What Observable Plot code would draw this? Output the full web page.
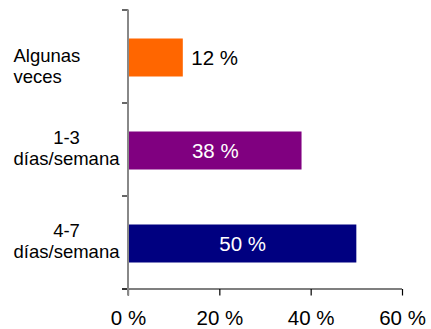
<!DOCTYPE html>
<html>
<head>
<meta charset="utf-8">
<script src="https://cdn.jsdelivr.net/npm/d3@7"></script>
<script src="https://cdn.jsdelivr.net/npm/@observablehq/plot@0.6"></script>
<style>
  html, body { margin: 0; padding: 0; background: #fff; }
  #chart svg { display: block; }
</style>
</head>
<body>
<div id="chart"></div>
<script>
const categories = ["Algunas\nveces", "1-3\ndías/semana", "4-7\ndías/semana"];
const values = [12, 38, 50];
const colors = ["#FF6600", "#800080", "#000080"];
const xTicks = [0, 20, 40, 60];
const xTickLabels = ["0 %", "20 %", "40 %", "60 %"];

const data = categories.map((c, i) => ({cat: c, value: values[i], color: colors[i], label: values[i] + " %", inside: values[i] >= 20}));

const W = 431, H = 329;
const font = "Arial, 'Liberation Sans', sans-serif";

// Axis lines and boundary ticks on the category axis, drawn from the scales
function axisLines(index, scales, values, dimensions) {
  const y = scales.y;
  const x = scales.x;
  const step = y.step();
  const bw = y.bandwidth();
  const g = d3.create("svg:g");
  const x0 = x(0);
  const positions = [];
  categories.forEach((c, i) => {
    const center = y(c) + bw / 2;
    if (i === 0) positions.push(center - step / 2);
    positions.push(center + step / 2);
  });
  const yBottom = positions[positions.length - 1];
  // horizontal black axis line
  g.append("line").attr("x1", x0 - 6).attr("x2", x(xTicks[xTicks.length - 1]))
    .attr("y1", yBottom + 0.5).attr("y2", yBottom + 0.5)
    .attr("stroke", "#000").attr("stroke-width", 1.2);
  positions.forEach(p => {
    g.append("line").attr("x1", x0 - 6).attr("x2", x0).attr("y1", p + 0.5).attr("y2", p + 0.5)
      .attr("stroke", "#000").attr("stroke-width", 1.2);
  });
  // vertical gray axis line
  g.append("line").attr("x1", x0).attr("x2", x0)
    .attr("y1", positions[0]).attr("y2", yBottom + 7)
    .attr("stroke", "#888").attr("stroke-width", 2);
  return g.node();
}

const plot = Plot.plot({
  width: W,
  height: H,
  marginLeft: 128,
  marginRight: 29,
  marginTop: 10,
  marginBottom: 40,
  style: {fontFamily: font, background: "#fff", color: "#000"},
  x: {domain: [0, 60], label: null},
  y: {domain: categories, paddingInner: 0.59, paddingOuter: 0.295, axis: null, label: null},
  marks: [
    Plot.barX(data, {y: "cat", x: "value", fill: "color", dy: 1.5}),
    Plot.axisX({ticks: xTicks, tickFormat: (d) => xTickLabels[xTicks.indexOf(d)], label: null, tickSize: 6.5, tickPadding: 14, fontSize: 20.5, stroke: "#000", strokeOpacity: 1, strokeWidth: 1.2, fill: "#000"}),
    axisLines,
    Plot.text(data.filter(d => d.inside), {y: "cat", x: d => d.value / 2, text: "label", fill: "#fff", fontSize: 20.5, dy: 1.5}),
    Plot.text(data.filter(d => !d.inside), {y: "cat", x: "value", text: "label", fill: "#000", fontSize: 20.5, textAnchor: "start", dx: 8, dy: 1.5}),
    Plot.text(data.slice(0, 1), {y: "cat", x: 0, text: "cat", fill: "#000", fontSize: 18.5, textAnchor: "start", dx: -115, dy: 9, lineHeight: 1.13}),
    Plot.text(data.slice(1), {y: "cat", x: 0, text: "cat", fill: "#000", fontSize: 18.5, textAnchor: "middle", dx: -62, dy: -1.5, lineHeight: 1.13})
  ]
});

document.getElementById("chart").appendChild(plot);
</script>
</body>
</html>
